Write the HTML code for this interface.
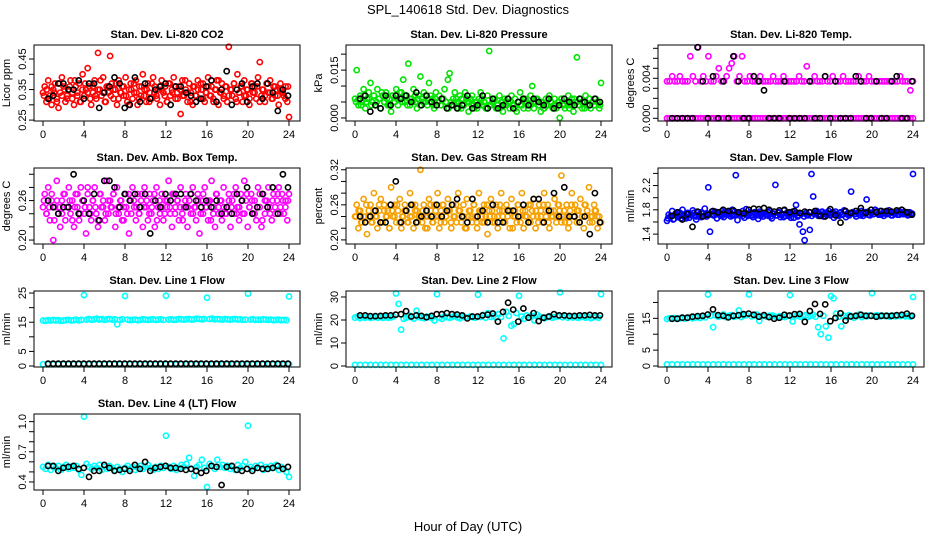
<!DOCTYPE html>
<html><head><meta charset="utf-8"><title>SPL_140618 Std. Dev. Diagnostics</title>
<style>
html,body{margin:0;padding:0;background:#fff;}
svg{display:block;font-family:"Liberation Sans",sans-serif;}
</style></head>
<body>
<svg id="chart" width="936" height="540" viewBox="0 0 936 540">
<text x="468" y="14" text-anchor="middle" font-size="13">SPL_140618  Std. Dev. Diagnostics</text>
<text x="468" y="531" text-anchor="middle" font-size="13">Hour of Day (UTC)</text>
</svg>
<script>
const xTicks = [0,4,8,12,16,20,24];
const co2Red = [.34,.36,.31,.38,.33,.30,.35,.37,.32,.29,.34,.39,.36,.31,.33,.35,.38,.32,.30,.36,
.34,.37,.31,.40,.33,.35,.42,.36,.30,.34,.38,.32,.47,.35,.33,.39,.31,.36,.34,.46,
.37,.32,.35,.30,.38,.34,.36,.33,.39,.31,.35,.37,.32,.34,.38,.30,.36,.33,.40,.35,
.31,.37,.34,.32,.39,.36,.33,.35,.30,.38,.34,.36,.31,.37,.33,.35,.39,.32,.34,.36,
.27,.38,.33,.35,.31,.37,.34,.30,.36,.33,.38,.32,.35,.37,.31,.34,.39,.33,.36,.32,
.35,.38,.30,.34,.37,.33,.36,.31,.49,.35,.33,.37,.32,.40,.34,.36,.31,.38,.33,.35,
.30,.37,.34,.36,.32,.39,.44,.33,.35,.31,.37,.34,.38,.32,.36,.33,.35,.30,.37,.34,
.33,.36,.31,.26];
const co2Red2 = [.33,.35,.32,.36,.34,.31,.37,.33,.35,.32,.36,.34,.38,.33,.31,.35,.37,.34,.32,.36,.33,.35,.38,.34,.31,.36,.33,.35,.37,.32,.34,.36,.33,.30,.35,.37,.34,.32,.36,.33,.35,.31,.37,.34,.32,.36,.35,.33,.31,.37,.34,.36,.32,.35,.33,.38,.34,.31,.36,.33,.35,.37,.32,.34,.36,.33,.31,.35,.38,.34,.32,.36,.33,.35,.37,.31,.34,.36,.33,.35,.32,.37,.34,.36,.31,.35,.33,.37,.34,.32,.36,.33,.35,.34,.32,.36];
const co2Black = [.32,.33,.37,.37,.35,.35,.38,.32,.37,.37,.29,.34,.36,.39,.37,.29,.30,.39,.31,.37,.32,.35,.36,.37,.30,.36,.36,.34,.33,.31,.32,.36,.38,.31,.35,.41,.30,.35,.37,.31,.36,.37,.32,.37,.34,.28,.35,.33];
const presGreen = [.006,.015,.004,.007,.005,.009,.003,.006,.008,.011,.005,.007,.004,.009,.006,.003,.007,.005,.008,.004,
.006,.002,.007,.005,.009,.004,.006,.008,.012,.005,.007,.017,.004,.006,.009,.005,.003,.007,.013,.006,
.008,.005,.004,.011,.007,.006,.003,.008,.005,.007,.004,.006,.009,.005,.012,.014,.004,.006,.008,.005,
.003,.007,.006,.004,.008,.005,.002,.006,.007,.004,.005,.003,.006,.008,.004,.005,.003,.007,.021,.004,
.005,.006,.003,.004,.007,.005,.002,.006,.004,.005,.003,.007,.004,.006,.002,.005,.008,.004,.003,.006,
.005,.004,.007,.010,.003,.005,.006,.004,.002,.005,.003,.006,.004,.007,.005,.003,.006,.004,.005,.000,
.006,.004,.003,.005,.007,.004,.006,.002,.005,.019,.004,.006,.003,.005,.007,.004,.006,.003,.005,.004,
.006,.005,.003,.011];
const presGreen2 = [.005,.006,.004,.007,.005,.006,.004,.007,.005,.006,.008,.005,.006,.004,.007,.005,.006,.008,.005,.007,.004,.006,.005,.007,.006,.004,.005,.007,.006,.005,.004,.006,.005,.004,.006,.005,.003,.005,.004,.006,.005,.003,.004,.006,.005,.004,.003,.005,.004,.006,.005,.003,.004,.005,.006,.004,.003,.005,.004,.006,.005,.004,.003,.005,.004,.006,.005,.003,.004,.005,.006,.004,.005,.003,.004,.006,.005,.004,.003,.005,.006,.004,.005,.003,.004,.006,.005,.004,.005,.003,.004,.006,.005,.004,.005,.004];
const presBlack = [.006,.007,.002,.004,.003,.007,.004,.007,.006,.007,.005,.008,.004,.007,.005,.004,.006,.003,.004,.003,.004,.007,.003,.004,.007,.003,.006,.003,.004,.006,.003,.005,.006,.004,.006,.005,.004,.006,.003,.004,.006,.005,.004,.006,.005,.004,.006,.005];
const tempMid = [.0037,.0037,.0042,.0037,.0037,.0042,.0037,.0037,.0037,.0062,.0042,.0037,.0071,.0037,.0042,.0037,.0062,.0037,.0037,.0042,
.005,.0037,.0037,.0042,.005,.0055,.0062,.0037,.0042,.0062,.0037,.0037,.0042,.0037,.0037,.0037,.0042,.0037,.0037,.0037,
.0037,.0042,.0037,.0037,.0037,.0042,.0037,.0037,.0037,.0037,.0037,.0042,.0037,.0037,.0052,.0037,.0037,.0042,.0037,.0037,
.0037,.0042,.0037,.0037,.0042,.0037,.0037,.0037,.0042,.0037,.0037,.0037,.0037,.0037,.0042,.0037,.0037,.0037,.0042,.0037,
.0037,.0037,.0037,.0037,.0037,.0037,.0037,.0037,.0037,.0037,.0042,.0037,.0037,.0037,.0028,.0037];
const tempLow = [0,0,0,0,0,0,0,0,0,0,0,0,0,0,0,0,0,0,0,0,0,0,0,0,0,0,0,0,0,0,0,0,0,0,0,0,0,0,0,0,0,0,0,0,0,0,0,0,
0,0,0,0,0,0,0,0,0,0,0,0,0,0,0,0,0,0,0,0,0,0,0,0,0,0,0,0,0,0,0,0,0,0,0,0,0,0,0,0,0,0,0,0,0,0,0,0];
const tempBlack = [0,0,0,0,0,.0071,.0037,0,.0042,0,.0037,0,.0062,.0037,0,0,.0042,.0037,.0028,0,0,0,.0037,0,0,0,0,.0037,0,0,.0042,0,.0037,0,0,0,.0042,.0037,0,0,.0037,0,0,.0037,.0042,0,0,.0037];
const ambMagenta = [.25,.27,.24,.28,.23,.26,.20,.25,.29,.24,.22,.26,.27,.23,.25,.28,.24,.26,.22,.27,
.25,.23,.28,.26,.24,.21,.27,.25,.23,.26,.28,.24,.22,.27,.25,.26,.23,.29,.24,.26,
.25,.27,.22,.28,.24,.26,.23,.25,.27,.24,.21,.26,.28,.25,.23,.27,.24,.26,.22,.28,
.25,.23,.27,.24,.26,.22,.28,.25,.24,.27,.23,.26,.25,.29,.24,.22,.27,.25,.26,.23,
.28,.24,.25,.27,.22,.26,.24,.28,.25,.23,.27,.21,.26,.24,.28,.25,.23,.26,.29,.24,
.22,.27,.25,.26,.23,.28,.24,.25,.27,.22,.26,.24,.28,.25,.23,.27,.24,.29,.26,.22,
.25,.27,.24,.26,.23,.28,.25,.22,.27,.24,.26,.28,.25,.23,.27,.24,.26,.28,.25,.27,
.24,.26,.23,.27];
const ambMagenta2 = [.26,.24,.25,.27,.23,.26,.25,.24,.27,.25,.26,.23,.25,.27,.24,.26,.25,.28,.24,.26,.25,.23,.27,.25,.24,.26,.25,.27,.24,.25,.26,.23,.25,.27,.24,.26,.25,.24,.27,.25,.26,.24,.25,.27,.23,.26,.25,.24,.26,.25,.27,.24,.26,.25,.23,.26,.25,.27,.24,.25,.26,.24,.27,.25,.26,.23,.25,.27,.24,.26,.25,.24,.26,.25,.27,.24,.25,.26,.24,.27,.25,.26,.24,.25,.27,.23,.26,.25,.24,.26,.25,.27,.24,.26,.25,.26];
const ambBlack = [.26,.25,.24,.25,.25,.30,.24,.26,.24,.27,.23,.29,.29,.28,.25,.27,.26,.27,.25,.27,.21,.26,.25,.27,.26,.27,.27,.25,.27,.26,.25,.26,.25,.26,.24,.25,.24,.27,.26,.28,.24,.25,.27,.25,.28,.24,.30,.28];
const rhOrange = [.24,.26,.22,.25,.23,.27,.24,.21,.25,.26,.23,.28,.24,.22,.25,.27,.23,.26,.24,.25,
.22,.29,.24,.26,.23,.25,.27,.22,.24,.26,.25,.23,.28,.24,.22,.26,.25,.24,.32,.23,
.26,.24,.22,.27,.25,.23,.26,.24,.28,.22,.25,.26,.23,.24,.27,.25,.22,.26,.24,.23,
.28,.25,.24,.26,.22,.27,.24,.25,.23,.26,.24,.22,.28,.25,.23,.26,.24,.21,.25,.27,
.23,.24,.26,.22,.25,.28,.24,.23,.26,.25,.22,.27,.24,.25,.23,.26,.24,.28,.22,.25,
.24,.26,.23,.25,.27,.22,.24,.26,.25,.23,.28,.24,.26,.22,.25,.24,.27,.23,.26,.25,
.31,.24,.23,.26,.22,.25,.28,.24,.26,.23,.25,.27,.24,.22,.26,.25,.29,.24,.23,.26,
.25,.22,.24,.23];
const rhOrange2 = [.24,.25,.23,.24,.26,.24,.23,.25,.24,.26,.23,.25,.24,.22,.25,.24,.26,.23,.24,.25,.23,.24,.26,.25,.23,.24,.25,.22,.24,.26,.23,.25,.24,.23,.26,.24,.25,.23,.24,.26,.25,.23,.24,.22,.25,.24,.26,.23,.25,.24,.23,.26,.24,.25,.23,.24,.26,.25,.23,.24,.25,.22,.24,.26,.23,.25,.24,.23,.26,.24,.25,.23,.24,.26,.25,.23,.24,.25,.24,.26,.23,.25,.24,.23,.26,.24,.25,.23,.24,.26,.25,.23,.24,.25,.24,.23];
const rhBlack = [.24,.23,.24,.25,.23,.23,.26,.30,.23,.25,.26,.23,.24,.25,.24,.26,.24,.25,.26,.27,.24,.23,.27,.24,.25,.23,.26,.23,.23,.25,.25,.24,.26,.23,.27,.27,.23,.25,.28,.24,.29,.24,.24,.23,.24,.21,.28,.23];
const flowBlue = [1.62,1.72,1.68,1.78,1.65,1.74,1.70,1.76,1.66,1.80,1.71,1.69,1.75,1.67,1.73,1.79,1.70,1.64,1.76,1.72,
1.68,1.74,1.82,1.69,2.17,1.44,1.73,1.71,1.77,1.66,1.75,1.70,1.78,1.68,1.74,1.72,1.76,1.69,1.80,1.71,
2.37,1.63,1.75,1.73,1.78,1.67,1.81,1.70,1.74,1.72,1.68,1.76,1.71,1.65,1.77,1.73,1.69,1.75,1.72,1.70,
1.78,1.66,1.74,2.21,1.71,1.76,1.68,1.73,1.79,1.70,1.75,1.72,1.67,1.77,1.74,1.88,1.69,1.56,1.73,1.44,
1.30,1.75,1.71,1.47,2.39,2.02,1.74,1.78,1.70,1.73,1.76,1.69,1.75,1.72,1.78,1.71,1.74,1.67,1.77,1.73,
1.70,1.76,1.72,1.79,1.68,1.74,1.71,2.10,1.76,1.73,1.69,1.75,1.72,1.78,1.70,1.74,1.97,1.77,1.71,1.75,
1.73,1.80,1.76,1.72,1.78,1.74,1.70,1.77,1.73,1.79,1.75,1.71,1.76,1.74,1.72,1.78,1.75,1.73,1.77,1.74,
1.71,1.76,1.73,2.39];
const flowBlue2 = [1.66,1.70,1.64,1.72,1.68,1.74,1.70,1.66,1.73,1.71,1.75,1.69,1.72,1.76,1.70,1.74,1.72,1.77,1.71,1.75,1.73,1.70,1.76,1.72,1.74,1.71,1.77,1.73,1.75,1.70,1.74,1.72,1.76,1.71,1.73,1.75,1.70,1.74,1.72,1.76,1.69,1.73,1.71,1.75,1.72,1.68,1.74,1.70,1.73,1.67,1.75,1.71,1.74,1.69,1.72,1.76,1.70,1.73,1.75,1.71,1.77,1.73,1.75,1.72,1.76,1.74,1.71,1.75,1.73,1.77,1.72,1.74,1.76,1.73,1.75,1.71,1.74,1.76,1.72,1.75,1.73,1.77,1.74,1.72,1.76,1.73,1.75,1.71,1.74,1.76,1.72,1.74,1.73,1.75,1.72,1.74];
const flowBlack = [1.70,1.76,1.64,1.73,1.52,1.77,1.69,1.72,1.78,1.76,1.80,1.78,1.79,1.76,1.74,1.80,1.82,1.81,1.83,1.80,1.77,1.79,1.80,1.76,1.78,1.75,1.77,1.76,1.78,1.70,1.69,1.81,1.71,1.59,1.78,1.75,1.78,1.83,1.75,1.80,1.76,1.78,1.78,1.77,1.79,1.80,1.76,1.72];
const line1Main = [15.6,15.5,15.7,15.6,15.8,15.6,15.7,15.5,15.6,15.7,15.8,15.6,15.7,15.9,15.6,15.8,24.3,15.9,16.1,15.8,16.0,16.2,15.9,16.1,15.8,16.0,16.1,15.9,16.0,14.3,15.8,16.0,24.0,15.9,15.7,15.8,15.9,15.7,15.8,16.0,15.9,15.8,15.9,16.0,15.8,15.9,16.0,15.8,24.1,15.9,16.0,15.8,15.9,16.1,16.0,15.9,16.0,16.1,15.9,16.0,16.2,16.1,16.0,16.1,23.4,16.1,16.2,16.0,16.1,16.0,15.9,16.1,16.0,15.9,16.0,16.1,15.9,16.0,15.8,15.9,24.8,15.9,16.0,15.8,15.9,15.8,16.0,15.9,15.8,15.9,15.7,15.8,15.9,15.7,15.8,15.7,23.8];
const line1Low = [0.6,0.6,0.6,0.6,0.6,0.6,0.6,0.6,0.6,0.6,0.6,0.6,0.6,0.6,0.6,0.6,0.6,0.6,0.6,0.6,0.6,0.6,0.6,0.6,0.6,0.6,0.6,0.6,0.6,0.6,0.6,0.6,0.6,0.6,0.6,0.6,0.6,0.6,0.6,0.6,0.6,0.6,0.6,0.6,0.6,0.6,0.6,0.6,0.6];
const line1Black = [0.8,0.8,0.8,0.8,0.8,0.8,0.8,0.8,0.8,0.8,0.8,0.8,0.8,0.8,0.8,0.8,0.8,0.8,0.8,0.8,0.8,0.8,0.8,0.8,0.8,0.8,0.8,0.8,0.8,0.8,0.8,0.8,0.8,0.8,0.8,0.8,0.8,0.8,0.8,0.8,0.8,0.8,0.8,0.8,0.8,0.8,0.8,0.8];
const line2Main = [21,21.5,20.8,21.2,21,21.3,20.9,21.1,21.4,21,21.2,20.9,21.3,21,21.1,21.5,31.5,27,15.8,20.5,21,22,21.2,20.6,24,21.3,21,20.8,21.5,21.2,20.9,19.8,31.2,21,20.5,21.6,21.2,20.9,21.3,21.8,21.1,20.7,21.4,21.2,20.9,21.5,21.2,21,31,21.3,22.2,21,23,21.4,21.8,21.1,22.5,21.3,12,23.5,21.8,17.5,18.2,23,30.5,21.5,20.5,22,21.3,21.8,19.8,22.4,21.5,21,20.8,21.3,21.6,21,21.2,21.5,32,21.2,21.8,21,21.4,21.1,21.3,20.9,21.2,21.5,21,21.3,20.8,21.2,21.4,21,31.2];
const line2Low = [0.5,0.5,0.5,0.5,0.5,0.5,0.5,0.5,0.5,0.5,0.5,0.5,0.5,0.5,0.5,0.5,0.5,0.5,0.5,0.5,0.5,0.5,0.5,0.5,0.5,0.5,0.5,0.5,0.5,0.5,0.5,0.5,0.5,0.5,0.5,0.5,0.5,0.5,0.5,0.5,0.5,0.5,0.5,0.5,0.5,0.5,0.5,0.5,0.5];
const line2Black = [22,22,21.7,21.7,21.8,22,22,22.3,22.5,23.8,21.5,22,21.8,21.2,21.8,22.5,22.5,23,22.5,22.4,22,20.7,21.5,21.5,22,22.3,22.8,19.3,23.5,27.5,24.5,19.3,25,21,23,19.5,21,21.5,22.5,22,22,21.8,21.8,22,22,22.2,22,22];
const line3Main = [14.8,15,14.9,15.1,14.8,15,15.2,14.9,15.1,15.3,15,15.2,15.4,15.1,15.6,15.3,22.5,15.8,12.2,16,15.5,15.7,16.2,15.4,15.8,16,15.5,15.7,17.5,15.4,15.9,16,22.5,15.6,15.8,16.2,14.2,15.7,16,15.5,15.8,15.9,15.6,15.3,15.7,15.5,15.4,15.8,22.3,14,15.6,15.9,15.5,15.8,16,15.4,15.7,16.1,15.5,12.2,10,15.8,12.5,8.9,22,21.3,16.5,15.5,12.5,15.8,15.4,16,15.5,15.2,15.7,16.2,15.4,15.8,15.6,15.9,22.9,15.8,16,15.6,15.9,15.7,15.8,15.5,15.9,15.6,15.8,15.7,15.9,15.6,15.8,15.5,21.7];
const line3Low = [0.5,0.5,0.5,0.5,0.5,0.5,0.5,0.5,0.5,0.5,0.5,0.5,0.5,0.5,0.5,0.5,0.5,0.5,0.5,0.5,0.5,0.5,0.5,0.5,0.5,0.5,0.5,0.5,0.5,0.5,0.5,0.5,0.5,0.5,0.5,0.5,0.5,0.5,0.5,0.5,0.5,0.5,0.5,0.5,0.5,0.5,0.5,0.5,0.5];
const line3Black = [14.9,14.9,15.2,15.2,15.5,15.7,15.8,16.2,17.8,16,15.8,15.3,15.8,16,16.3,16.5,16.1,15.5,16,15.4,14.9,15.2,16.1,15.9,16.3,16.4,13.9,17.3,19.5,16.4,19.4,14.1,15.1,16.6,14.3,15.6,15.8,16.1,15.8,15.8,15.5,15.8,15.8,15.8,16,16.1,16.5,15.8];
const line4Main = [.55,.53,.57,.52,.55,.54,.56,.52,.55,.57,.53,.55,.54,.56,.52,.47,1.05,.58,.55,.53,.56,.54,.57,.52,.55,.53,.56,.54,.52,.55,.53,.50,.54,.56,.53,.55,.52,.54,.56,.53,.55,.57,.54,.52,.55,.53,.56,.54,.86,.55,.53,.56,.52,.54,.57,.55,.58,.64,.53,.46,.55,.57,.62,.54,.35,.58,.56,.53,.62,.55,.57,.54,.56,.53,.55,.52,.57,.54,.56,.60,.96,.55,.53,.56,.54,.57,.52,.55,.53,.56,.54,.57,.52,.55,.53,.50,.45];
const line4Black = [.56,.56,.51,.54,.55,.56,.53,.54,.45,.51,.51,.57,.54,.51,.52,.53,.51,.57,.53,.60,.51,.54,.55,.56,.54,.54,.53,.52,.53,.51,.49,.51,.56,.55,.37,.55,.56,.52,.51,.53,.51,.54,.53,.53,.54,.56,.53,.55];

const NS = "http://www.w3.org/2000/svg";
const svg = document.getElementById('chart');
const colLeft = [34,346,658], rowTop = [45,168,291,414], W = 266, H = 76;

const panels = [
 {key:'co2',title:'Stan. Dev. Li-820 CO2',ylab:'Licor ppm',c:0,r:0,ylim:[0.247,0.496],ticks:[.25,.30,.35,.40,.45],labels:['0.25','','0.35','','0.45'],
  series:[{v:co2Red,col:'#ff0000',s:0,e:24},{v:co2Red2,col:'#ff0000',s:0.1,e:23.9},{v:co2Black,col:'#000',s:0.5,e:23.9}]},
 {key:'pressure',title:'Stan. Dev. Li-820 Pressure',ylab:'kPa',c:1,r:0,ylim:[-0.00096,0.02287],ticks:[0,.005,.01,.015,.02],labels:['0.000','','','0.015',''],
  series:[{v:presGreen,col:'#00e400',s:0,e:24},{v:presGreen2,col:'#00e400',s:0.1,e:23.9},{v:presBlack,col:'#000',s:0.5,e:23.9}]},
 {key:'li820-temp',title:'Stan. Dev. Li-820 Temp.',ylab:'degrees C',c:2,r:0,ylim:[-0.00027,0.00733],ticks:[0,.001,.002,.003,.004,.005,.006,.007],labels:['0.000','','','','0.004','','',''],
  series:[{v:tempLow,col:'#ff00ff',s:0,e:24},{v:tempMid,col:'#ff00ff',s:0,e:24},{v:tempBlack,col:'#000',s:0.5,e:23.9}]},
 {key:'amb-temp',title:'Stan. Dev. Amb. Box Temp.',ylab:'degrees C',c:0,r:1,ylim:[0.194,0.3095],ticks:[.20,.22,.24,.26,.28,.30],labels:['0.20','','','0.26','',''],
  series:[{v:ambMagenta,col:'#ff00ff',s:0,e:24},{v:ambMagenta2,col:'#ff00ff',s:0.1,e:23.9},{v:ambBlack,col:'#000',s:0.5,e:23.9}]},
 {key:'rh',title:'Stan. Dev. Gas Stream RH',ylab:'percent',c:1,r:1,ylim:[0.193,0.323],ticks:[.20,.22,.24,.26,.28,.30,.32],labels:['0.20','','','0.26','','','0.32'],
  series:[{v:rhOrange,col:'#f5a000',s:0,e:24},{v:rhOrange2,col:'#f5a000',s:0.1,e:23.9},{v:rhBlack,col:'#000',s:0.5,e:23.9}]},
 {key:'sample-flow',title:'Stan. Dev. Sample Flow',ylab:'ml/min',c:2,r:1,ylim:[1.237,2.489],ticks:[1.4,1.6,1.8,2.0,2.2,2.4],labels:['1.4','','1.8','','2.2',''],
  series:[{v:flowBlue,col:'#0000ff',s:0,e:24},{v:flowBlue2,col:'#0000ff',s:0.1,e:23.9},{v:flowBlack,col:'#000',s:0.5,e:23.9}]},
 {key:'line1',title:'Stan. Dev. Line 1 Flow',ylab:'ml/min',c:0,r:2,ylim:[-0.34,25.7],ticks:[0,5,10,15,20,25],labels:['0','5','','15','','25'],
  series:[{v:line1Low,col:'#00ffff',s:0,e:24},{v:line1Main,col:'#00ffff',s:0,e:24},{v:line1Black,col:'#000',s:0.5,e:23.9}]},
 {key:'line2',title:'Stan. Dev. Line 2 Flow',ylab:'ml/min',c:1,r:2,ylim:[-0.43,32.6],ticks:[0,10,20,30],labels:['0','10','20','30'],
  series:[{v:line2Low,col:'#00ffff',s:0,e:24},{v:line2Main,col:'#00ffff',s:0,e:24},{v:line2Black,col:'#000',s:0.5,e:23.9}]},
 {key:'line3',title:'Stan. Dev. Line 3 Flow',ylab:'ml/min',c:2,r:2,ylim:[-0.31,23.6],ticks:[0,5,10,15,20],labels:['0','5','','15',''],
  series:[{v:line3Low,col:'#00ffff',s:0,e:24},{v:line3Main,col:'#00ffff',s:0,e:24},{v:line3Black,col:'#000',s:0.5,e:23.9}]},
 {key:'line4',title:'Stan. Dev. Line 4 (LT) Flow',ylab:'ml/min',c:0,r:3,ylim:[0.32,1.076],ticks:[.4,.5,.6,.7,.8,.9,1.0],labels:['0.4','','','0.7','','','1.0'],
  series:[{v:line4Main,col:'#00ffff',s:0,e:24},{v:line4Black,col:'#000',s:0.5,e:23.9}]}
];

function mk(tag, attrs, parent){
  const el = document.createElementNS(NS, tag);
  for (const k in attrs) el.setAttribute(k, attrs[k]);
  parent.appendChild(el);
  return el;
}

panels.forEach(p => {
  const L = colLeft[p.c], T = rowTop[p.r];
  const xs = h => L + 9 + h * 246 / 24;
  const ys = v => T + H - (v - p.ylim[0]) / (p.ylim[1] - p.ylim[0]) * H;
  const g = mk('g', {}, svg);
  
  
  const t = mk('text', {x: L + W/2, y: T - 7, 'text-anchor':'middle', 'font-size':'11', 'font-weight':'bold'}, g);
  t.textContent = p.title;
  
  
  const yl = mk('text', {x:0, y:0, transform:`translate(${L-24},${T+H/2}) rotate(-90)`, 'text-anchor':'middle', 'font-size':'11'}, g);
  yl.textContent = p.ylab;
  
  
  p.series.forEach(s => {
    const n = s.v.length;
    s.v.forEach((val, i) => {
      const h = s.s + i * (s.e - s.s) / (n - 1);
      const c = mk('circle', {cx: xs(h).toFixed(1), cy: ys(val).toFixed(1), r: 2.6, fill:'none', stroke: s.col, 'stroke-width': 1.6}, g);
      
      
    });
  });
  const b = mk('rect', {x: L, y: T, width: W, height: H, fill:'none', stroke:'#000', 'stroke-width':1}, g);
  
  
  xTicks.forEach(h => {
    mk('line', {x1: xs(h), x2: xs(h), y1: T+H, y2: T+H+5, stroke:'#000'}, g);
    const tl = mk('text', {x: xs(h), y: T+H+17, 'text-anchor':'middle', 'font-size':'11'}, g);
    tl.textContent = h;
    
    
  });
  p.ticks.forEach((v, i) => {
    const y = ys(v);
    mk('line', {x1: L-5, x2: L, y1: y, y2: y, stroke:'#000'}, g);
    if (p.labels[i]) {
      const tl = mk('text', {x:0, y:0, transform:`translate(${L-8},${y}) rotate(-90)`, 'text-anchor':'middle', 'font-size':'11'}, g);
      tl.textContent = p.labels[i];
      
      
    }
  });
});
</script>
</body></html>
